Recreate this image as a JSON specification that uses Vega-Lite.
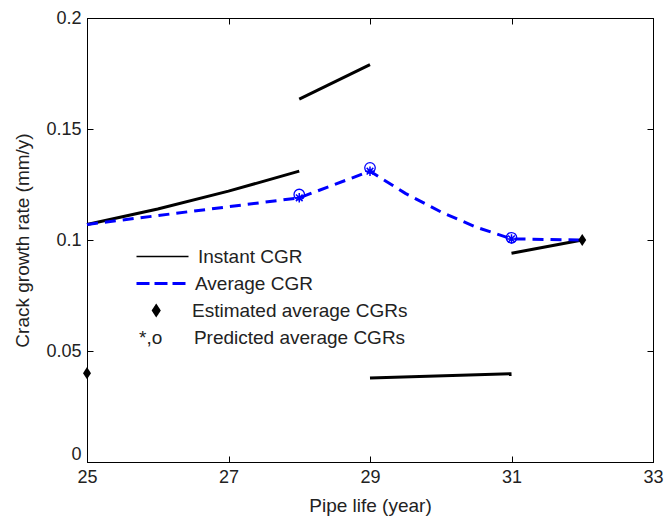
{
  "$schema": "https://vega.github.io/schema/vega-lite/v6.json",
  "width": 566,
  "height": 444,
  "autosize": "none",
  "padding": {"left": 87, "top": 18, "right": 14, "bottom": 60},
  "background": "#ffffff",
  "config": {
    "font": "Liberation Sans",
    "view": {"stroke": "#000000", "strokeWidth": 1},
    "axis": {
      "grid": false,
      "domainColor": "#000000",
      "tickColor": "#000000",
      "tickSize": -6,
      "labelFlush": false,
      "labelColor": "#222222",
      "titleColor": "#222222",
      "labelFont": "Liberation Sans",
      "titleFont": "Liberation Sans",
      "labelFontSize": 18,
      "titleFontSize": 19,
      "titleFontWeight": "normal"
    }
  },
  "datasets": {
    "instant": [
      {"seg": "a", "year": 25, "cgr": 0.107, "series": "Instant CGR"},
      {"seg": "a", "year": 26, "cgr": 0.114, "series": "Instant CGR"},
      {"seg": "a", "year": 27, "cgr": 0.122, "series": "Instant CGR"},
      {"seg": "a", "year": 28, "cgr": 0.131, "series": "Instant CGR"},
      {"seg": "b", "year": 28, "cgr": 0.1635, "series": "Instant CGR"},
      {"seg": "b", "year": 29, "cgr": 0.179, "series": "Instant CGR"},
      {"seg": "c", "year": 29, "cgr": 0.0378, "series": "Instant CGR"},
      {"seg": "c", "year": 31, "cgr": 0.0398, "series": "Instant CGR"},
      {"seg": "d", "year": 31, "cgr": 0.094, "series": "Instant CGR"},
      {"seg": "d", "year": 32, "cgr": 0.1, "series": "Instant CGR"}
    ],
    "average": [
      {"year": 25, "cgr": 0.107, "series": "Average CGR"},
      {"year": 26, "cgr": 0.111, "series": "Average CGR"},
      {"year": 27, "cgr": 0.115, "series": "Average CGR"},
      {"year": 28, "cgr": 0.119, "series": "Average CGR"},
      {"year": 29, "cgr": 0.131, "series": "Average CGR"},
      {"year": 29.5, "cgr": 0.121, "series": "Average CGR"},
      {"year": 30, "cgr": 0.1127, "series": "Average CGR"},
      {"year": 30.5, "cgr": 0.1058, "series": "Average CGR"},
      {"year": 31, "cgr": 0.1005, "series": "Average CGR"},
      {"year": 32, "cgr": 0.1, "series": "Average CGR"}
    ],
    "predicted": [
      {"kind": "o", "year": 28, "cgr": 0.1205, "series": "Predicted average CGRs"},
      {"kind": "o", "year": 29, "cgr": 0.1325, "series": "Predicted average CGRs"},
      {"kind": "o", "year": 31, "cgr": 0.101, "series": "Predicted average CGRs"},
      {"kind": "*", "year": 28, "cgr": 0.119, "series": "Predicted average CGRs"},
      {"kind": "*", "year": 29, "cgr": 0.131, "series": "Predicted average CGRs"},
      {"kind": "*", "year": 31, "cgr": 0.1005, "series": "Predicted average CGRs"}
    ],
    "estimated": [
      {"year": 25, "cgr": 0.04, "series": "Estimated average CGRs"},
      {"year": 32, "cgr": 0.1, "series": "Estimated average CGRs"}
    ]
  },
  "layer": [
    {
      "data": {"name": "instant"},
      "mark": {"type": "line", "strokeWidth": 3},
      "encoding": {
        "x": {
          "field": "year", "type": "quantitative",
          "scale": {"domain": [25, 33], "nice": false, "zero": false},
          "axis": {"orient": "bottom", "values": [25, 27, 29, 31, 33], "labelPadding": 12, "title": "Pipe life (year)", "titleY": 34, "titleBaseline": "top"}
        },
        "y": {
          "field": "cgr", "type": "quantitative",
          "scale": {"domain": [0, 0.2], "nice": false, "zero": false},
          "axis": {
            "orient": "left", "values": [0, 0.05, 0.1, 0.15, 0.2], "format": "~g", "labelPadding": 12,
            "labelOffset": {"condition": {"test": "datum.value === 0", "value": -8}, "value": 0},
            "title": "Crack growth rate (mm/y)", "titleX": -65, "titleBaseline": "middle"
          }
        },
        "detail": {"field": "seg"},
        "color": {
          "field": "series", "type": "nominal",
          "scale": {
            "domain": ["Instant CGR", "Average CGR", "Estimated average CGRs", "Predicted average CGRs"],
            "range": ["#000000", "#0000ff", "#000000", "#0000ff"]
          },
          "legend": {
            "orient": "none",
            "legendX": 66,
            "legendY": 229,
            "title": null,
            "padding": 0,
            "symbolType": "stroke",
            "symbolSize": 400,
            "labelFont": "Liberation Sans",
            "labelFontSize": 19,
            "labelColor": "#222222",
            "labelLimit": 0,
            "labelOffset": 26,
            "rowPadding": 7,
            "labelExpr": "datum.value === 'Predicted average CGRs' ? '*,o\u00a0\u00a0\u00a0\u00a0\u00a0\u00a0' + datum.label : datum.label",
            "encode": {
              "symbols": {
                "update": {
                  "shape": {"signal": "datum.value === 'Estimated average CGRs' ? 'M-1.1,-1L-0.45,0L-1.1,1L-1.75,0Z' : 'stroke'"},
                  "size": {"signal": "datum.value === 'Estimated average CGRs' ? 130 : 2704"},
                  "strokeDash": {"signal": "datum.value === 'Average CGR' ? [13, 5] : [1, 0]"},
                  "strokeWidth": {"signal": "datum.value === 'Average CGR' ? 3 : 1.5"},
                  "fill": {"signal": "datum.value === 'Estimated average CGRs' ? '#000000' : 'transparent'"},
                  "stroke": {"signal": "datum.value === 'Average CGR' ? '#0000ff' : '#000000'"},
                  "opacity": {"signal": "datum.value === 'Predicted average CGRs' ? 0 : 1"}
                }
              },
              "labels": {
                "update": {
                  "dx": {"signal": "datum.value === 'Predicted average CGRs' ? -59 : datum.value === 'Estimated average CGRs' ? -6 : datum.value === 'Average CGR' ? -3 : 0"}
                }
              }
            }
          }
        }
      }
    },
    {
      "data": {"name": "average"},
      "mark": {"type": "line", "strokeWidth": 3, "strokeDash": [11, 7]},
      "encoding": {
        "x": {
          "field": "year", "type": "quantitative",
          "scale": {"domain": [25, 33], "nice": false, "zero": false},
          "axis": {"orient": "top", "values": [25, 27, 29, 31, 33], "labels": false, "title": null}
        },
        "y": {
          "field": "cgr", "type": "quantitative",
          "scale": {"domain": [0, 0.2], "nice": false, "zero": false},
          "axis": {"orient": "right", "values": [0, 0.05, 0.1, 0.15, 0.2], "labels": false, "title": null}
        },
        "color": {"field": "series", "type": "nominal"}
      }
    },
    {
      "data": {"name": "predicted"},
      "transform": [{"filter": "datum.kind === 'o'"}],
      "mark": {"type": "point", "shape": "circle", "filled": false, "size": 110, "strokeWidth": 1.3, "opacity": 1},
      "encoding": {
        "x": {"field": "year", "type": "quantitative", "scale": {"domain": [25, 33], "nice": false, "zero": false}, "axis": null},
        "y": {"field": "cgr", "type": "quantitative", "scale": {"domain": [0, 0.2], "nice": false, "zero": false}, "axis": null},
        "color": {"field": "series", "type": "nominal"}
      }
    },
    {
      "data": {"name": "predicted"},
      "transform": [{"filter": "datum.kind === '*'"}],
      "mark": {"type": "point", "shape": "M-1,0L1,0M0,-1L0,1M-0.7,-0.7L0.7,0.7M-0.7,0.7L0.7,-0.7", "filled": false, "size": 90, "strokeWidth": 1.5, "opacity": 1},
      "encoding": {
        "x": {"field": "year", "type": "quantitative", "scale": {"domain": [25, 33], "nice": false, "zero": false}, "axis": null},
        "y": {"field": "cgr", "type": "quantitative", "scale": {"domain": [0, 0.2], "nice": false, "zero": false}, "axis": null},
        "color": {"field": "series", "type": "nominal"}
      }
    },
    {
      "data": {"name": "estimated"},
      "mark": {"type": "point", "shape": "M0,-1L0.65,0L0,1L-0.65,0Z", "filled": true, "size": 150, "opacity": 1},
      "encoding": {
        "x": {"field": "year", "type": "quantitative", "scale": {"domain": [25, 33], "nice": false, "zero": false}, "axis": null},
        "y": {"field": "cgr", "type": "quantitative", "scale": {"domain": [0, 0.2], "nice": false, "zero": false}, "axis": null},
        "color": {"field": "series", "type": "nominal"}
      }
    }
  ],
  "resolve": {"axis": {"x": "independent", "y": "independent"}}
}
